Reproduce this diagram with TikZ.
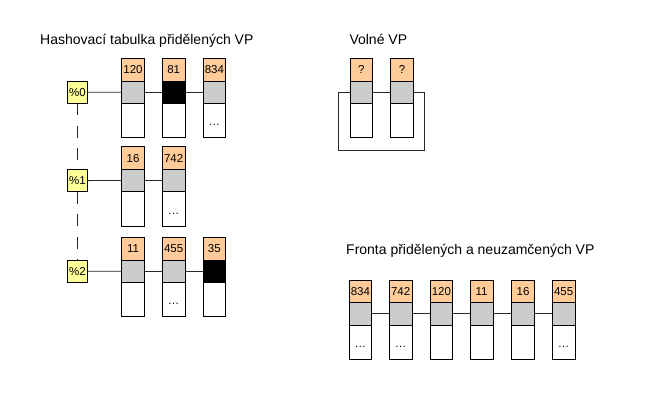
\documentclass[tikz,border=0pt]{standalone}
\usepackage{fontspec}
\setmainfont{Liberation Sans}
\definecolor{vporange}{RGB}{255,204,153}
\definecolor{vpgray}{RGB}{204,204,204}
\definecolor{vpyellow}{RGB}{255,255,153}
\definecolor{vpline}{RGB}{40,40,40}
\tikzset{
  cellbase/.style={draw=black, line width=0.9pt, inner sep=0pt, outer sep=0pt,
    minimum width=22.7pt, font=\fontsize{11.5}{13}\selectfont},
  ocell/.style={cellbase, fill=vporange, minimum height=22.7pt},
  gcell/.style={cellbase, minimum height=22.3pt},
  wcell/.style={cellbase, fill=white, minimum height=34.5pt},
  ycell/.style={draw=black, line width=0.8pt, fill=vpyellow, inner sep=0pt, outer sep=0pt,
    minimum width=20.4pt, minimum height=22.3pt, font=\fontsize{11.5}{13}\selectfont},
  dotsty/.style={inner sep=0pt, font=\fontsize{11.5}{13}\selectfont},
  title/.style={inner sep=0pt, anchor=base west, font=\fontsize{14}{16}\selectfont},
  conn/.style={draw=vpline, line width=0.8pt},
  chain/.style={draw=vpline, line width=0.9pt, dash pattern=on 12pt off 10.5pt}
}
\newcommand\vpcol[5]{%
  \node[ocell, anchor=north west] (#1o) at (#2,#3) {#4};
  \node[gcell, fill=#5, anchor=north] (#1g) at (#1o.south) {};
  \node[wcell, anchor=north] (#1w) at (#1g.south) {};
}
\newcommand\vpdots[1]{%
  \node[dotsty, anchor=base] (#1d) at ([yshift=-22.5pt]#1w.north) {…};
}
\begin{document}
\begin{tikzpicture}[x=1pt,y=-1pt]
\useasboundingbox[fill=white] (0,0) rectangle (647,402);

% titles
\node[title] (t1) at (40,44.5) {Hashovací tabulka přidělených VP};
\node[title] (t2) at (349.3,44.5) {Volné VP};
\node[title] (t3) at (346,254) {Fronta přidělených a neuzamčených VP};

% free VP loop (drawn behind)
\coordinate (fl) at (338.3,92.3);
\coordinate (fr) at (424.7,150.7);
\draw[conn] (fl) rectangle (fr);

% hash table
\node[ycell] (h0) at (77.5,92.2) {\%0};
\node[ycell] (h1) at (77.5,180.6) {\%1};
\node[ycell] (h2) at (77.5,271.2) {\%2};
\draw[chain] (h0.south) -- (h1.north);
\draw[chain] (h1.south) -- (h2.north);

\vpcol{a1}{121.7}{58.3}{120}{vpgray}
\vpcol{a2}{162.3}{58.3}{81}{black}
\vpcol{a3}{203}{58.3}{834}{vpgray}
\vpdots{a3}
\draw[conn] (h0.east) -- (a1g.west);
\draw[conn] (a1g.east) -- (a2g.west);
\draw[conn] (a2g.east) -- (a3g.west);

\vpcol{b1}{121.7}{146.7}{16}{vpgray}
\vpcol{b2}{162.3}{146.7}{742}{vpgray}
\vpdots{b2}
\draw[conn] (h1.east) -- (b1g.west);
\draw[conn] (b1g.east) -- (b2g.west);

\vpcol{c1}{121.7}{237.3}{11}{vpgray}
\vpcol{c2}{162.3}{237.3}{455}{vpgray}
\vpcol{c3}{203}{237.3}{35}{black}
\vpdots{c2}
\draw[conn] (h2.east) -- (c1g.west);
\draw[conn] (c1g.east) -- (c2g.west);
\draw[conn] (c2g.east) -- (c3g.west);

% free VP
\vpcol{f1}{350}{58.3}{?}{vpgray}
\vpcol{f2}{390.7}{58.3}{?}{vpgray}

% queue
\vpcol{q1}{349}{280}{834}{vpgray}
\vpcol{q2}{389.3}{280}{742}{vpgray}
\vpcol{q3}{430}{280}{120}{vpgray}
\vpcol{q4}{470.3}{280}{11}{vpgray}
\vpcol{q5}{511.7}{280}{16}{vpgray}
\vpcol{q6}{552.3}{280}{455}{vpgray}
\vpdots{q1}
\vpdots{q2}
\vpdots{q6}
\draw[conn] (q1g.east) -- (q2g.west);
\draw[conn] (q2g.east) -- (q3g.west);
\draw[conn] (q3g.east) -- (q4g.west);
\draw[conn] (q4g.east) -- (q5g.west);
\draw[conn] (q5g.east) -- (q6g.west);
\end{tikzpicture}
\end{document}
